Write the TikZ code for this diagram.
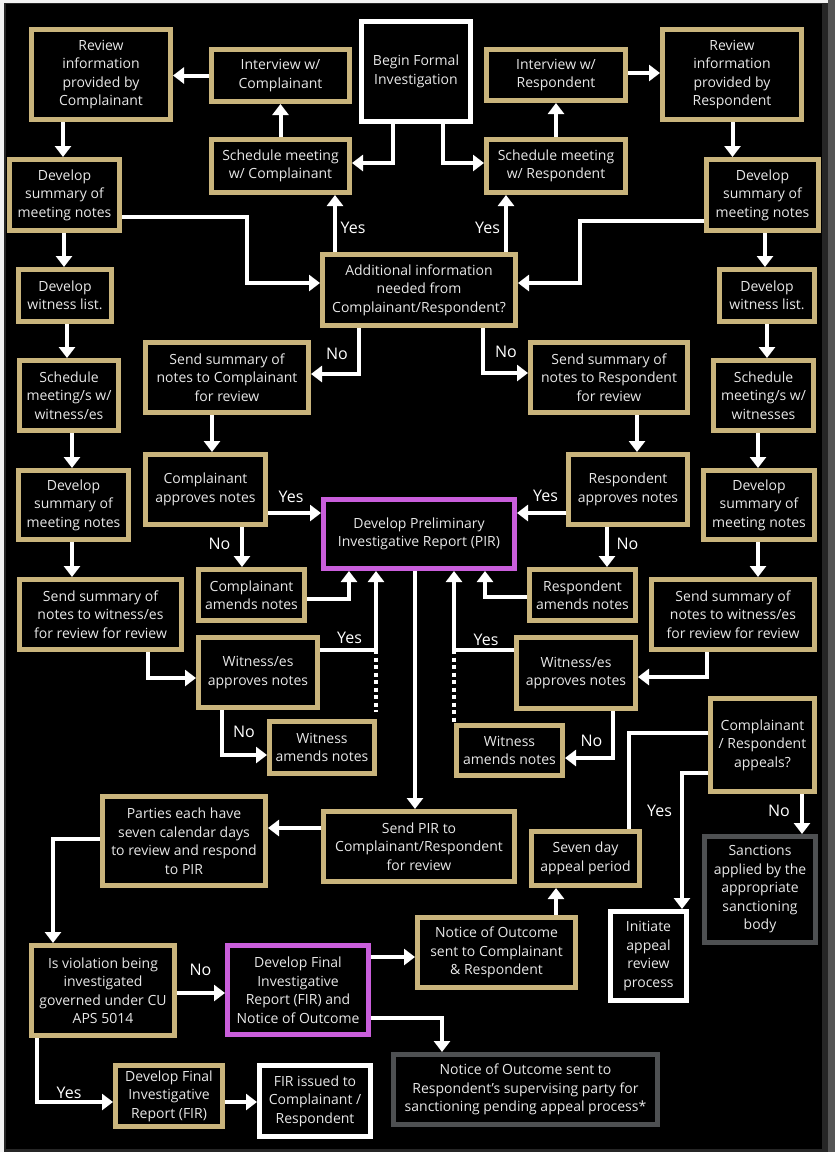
\documentclass[tikz,border=0pt]{standalone}
\usepackage{fontspec}
\setmainfont{Open Sans}
\usetikzlibrary{arrows.meta}
\definecolor{gold}{HTML}{C9B47C}
\definecolor{violet}{HTML}{C95EDB}
\definecolor{slate}{HTML}{4E5052}
\definecolor{txt}{HTML}{E8E8E8}
\definecolor{edge}{HTML}{F2F2F2}
\definecolor{rim}{HTML}{262626}
\definecolor{side}{HTML}{555555}
\begin{document}
\begin{tikzpicture}[x=1pt,y=-1pt,
  box/.style={draw, line width=5pt, fill=black, text=txt, align=center,
    font=\fontsize{14}{18.5}\selectfont, inner sep=0pt},
  gbox/.style={box, draw=gold},
  pbox/.style={box, draw=violet},
  wbox/.style={box, draw=white},
  kbox/.style={box, draw=slate},
  sz/.style 2 args={minimum width=#1pt, minimum height=#2pt},
  arr/.style={draw=white, line width=4pt, -{Triangle[width=16pt,length=11pt]}},
  link/.style={draw=white, line width=4pt},
  dots/.style={draw=white, line width=4pt, dash pattern=on 4pt off 3.5pt},
  lbl/.style={text=white, font=\fontsize{16}{18}\selectfont, inner sep=0pt}]

% page and frame
\useasboundingbox (0,0) rectangle (835,1152);
\fill[edge] (0,0) rectangle (835,1152);
\fill[side] (828,0) rectangle (835,1152);
\fill[rim] (4,3) rectangle (828,1152);
\fill[black] (6,4) rectangle (822,1149);

% top row
\node[gbox, sz={139}{90}] (revC) at (101,74.5) {Review\\information\\provided by\\Complainant};
\node[gbox, sz={138}{52}] (intC) at (280.5,75.5) {Interview w/\\Complainant};
\node[wbox, sz={109}{100}] (begin) at (416,71.5) {Begin Formal\\Investigation};
\node[gbox, sz={138}{53}] (schC) at (280.5,166) {Schedule meeting\\w/ Complainant};
\node[gbox, sz={139}{51}] (intR) at (556,75) {Interview w/\\Respondent};
\node[gbox, sz={139}{90}] (revR) at (732,74.5) {Review\\information\\provided by\\Respondent};
\node[gbox, sz={139}{53}] (schR) at (556,166) {Schedule meeting\\w/ Respondent};

% outer columns
\node[gbox, sz={110}{71}] (sumL) at (64.5,195) {Develop\\summary of\\meeting notes};
\node[gbox, sz={112}{71}] (sumR) at (762.5,195) {Develop\\summary of\\meeting notes};
\node[gbox, sz={93}{52}] (witL) at (65,295.5) {Develop\\witness list.};
\node[gbox, sz={95}{52}] (witR) at (767,295.5) {Develop\\witness list.};
\node[gbox, sz={99}{70}] (schWL) at (69,395.5) {Schedule\\meeting/s w/\\witness/es};
\node[gbox, sz={100}{70}] (schWR) at (763.5,395.5) {Schedule\\meeting/s w/\\witnesses};
\node[gbox, sz={110}{69}] (sum2L) at (73.5,505) {Develop\\summary of\\meeting notes};
\node[gbox, sz={111}{69}] (sum2R) at (759,505) {Develop\\summary of\\meeting notes};
\node[gbox, sz={162}{70}] (sendWL) at (100.5,614.5) {Send summary of\\notes to witness/es\\for review for review};
\node[gbox, sz={163}{70}] (sendWR) at (733,614.5) {Send summary of\\notes to witness/es\\for review for review};

% centre
\node[gbox, sz={193}{71}] (addl) at (419,290) {Additional information\\needed from\\Complainant/Respondent?};
\node[gbox, sz={163}{70}] (sendC) at (227,377.5) {Send summary of\\notes to Complainant\\for review};
\node[gbox, sz={157}{70}] (sendR) at (609,377.5) {Send summary of\\notes to Respondent\\for review};
\node[gbox, sz={120}{70}] (appC) at (205.5,489.5) {Complainant\\approves notes};
\node[gbox, sz={119}{70}] (appR) at (628,489.5) {Respondent\\approves notes};
\node[pbox, sz={191}{69}] (pir) at (419,534) {Develop Preliminary\\Investigative Report (PIR)};
\node[gbox, sz={106}{51}] (amC) at (251.5,595) {Complainant\\amends notes};
\node[gbox, sz={106}{51}] (amR) at (582.5,595) {Respondent\\amends notes};
\node[gbox, sz={119}{70}] (wapL) at (258,672.5) {Witness/es\\approves notes};
\node[gbox, sz={119}{71}] (wapR) at (576,673) {Witness/es\\approves notes};
\node[gbox, sz={105}{52}] (wamL) at (322,747.5) {Witness\\amends notes};
\node[gbox, sz={106}{50}] (wamR) at (509.5,750.5) {Witness\\amends notes};

% review and outcome
\node[gbox, sz={163}{89}] (parties) at (184,841) {Parties each have\\seven calendar days\\to review and respond\\to PIR};
\node[gbox, sz={191}{70}] (sendPIR) at (419,846.5) {Send PIR to\\Complainant/Respondent\\for review};
\node[gbox, sz={108}{54}] (seven) at (585.5,858.5) {Seven day\\appeal period};
\node[gbox, sz={104}{93}] (appeal) at (762.5,745) {Complainant\\/ Respondent\\appeals?};
\node[kbox, sz={111}{106}] (sanct) at (760,889.5) {Sanctions\\applied by the\\appropriate\\sanctioning\\body};
\node[wbox, sz={76}{89}] (initiate) at (648.5,956) {Initiate\\appeal\\review\\process};
\node[gbox, sz={158}{70}] (notC) at (496.5,952.5) {Notice of Outcome\\sent to Complainant\\\& Respondent};
\node[kbox, sz={264}{70}] (notSup) at (525.5,1089.5) {Notice of Outcome sent to\\Respondent’s supervising party for\\sanctioning pending appeal process*};
\node[gbox, sz={143}{90}] (isviol) at (103,990.5) {Is violation being\\investigated\\governed under CU\\APS 5014};
\node[pbox, sz={141}{89}] (firNo) at (298,990) {Develop Final\\Investigative\\Report (FIR) and\\Notice of Outcome};
\node[gbox, sz={107}{61}] (firDev) at (169,1096) {Develop Final\\Investigative\\Report (FIR)};
\node[wbox, sz={111}{71}] (firIss) at (315,1101) {FIR issued to\\Complainant /\\Respondent};

% junctions of the witness branches
\coordinate (jL) at (376,650);
\coordinate (jR) at (454,650);

% connectors: top
\draw[arr] (intC.west) -- (intC.west -| revC.east);
\draw[arr] (schC.north) -- (intC.south);
\draw[arr] ([xshift=-23pt]begin.south) |- ([yshift=3pt]schC.east);
\draw[arr] ([xshift=27pt]begin.south) |- ([yshift=3pt]schR.west);
\draw[arr] (schR.north) -- (intR.south);
\draw[arr] ([yshift=2pt]intR.east) -- ([yshift=2pt]intR.east -| revR.west);
\draw[arr] ([xshift=-38pt]revC.south) -- ([xshift=-38pt]revC.south |- sumL.north);
\draw[arr] ([xshift=-0.5pt]sumL.south) -- ([xshift=-0.5pt]sumL.south |- witL.north);
\draw[arr] ([yshift=-22pt]sumL.east) -| (247,283) -- ([yshift=7pt]addl.west);
\draw[arr] ([xshift=0.5pt]revR.south) -- ([xshift=0.5pt]revR.south |- sumR.north);
\draw[arr] ([xshift=2.5pt]sumR.south) -- ([xshift=2.5pt]sumR.south |- witR.north);
\draw[arr] ([yshift=-26pt]sumR.west) -| (580,283) -- ([yshift=7pt]addl.east);
\draw[arr] ([xshift=-84pt]addl.north) -- ([xshift=-84pt]addl.north |- schC.south);
\draw[arr] ([xshift=87pt]addl.north) -- ([xshift=87pt]addl.north |- schR.south);
\node[lbl] (yesAC) at (353,228) {Yes};
\node[lbl] (yesAR) at (487.5,228) {Yes};

% connectors: outer columns
\draw[arr] ([xshift=2pt]witL.south) -- ([xshift=2pt]witL.south |- schWL.north);
\draw[arr] ([xshift=3pt]schWL.south) -- ([xshift=3pt]schWL.south |- sum2L.north);
\draw[arr] ([xshift=-1.5pt]sum2L.south) -- ([xshift=-1.5pt]sum2L.south |- sendWL.north);
\draw[arr] (witR.south) -- (witR.south |- schWR.north);
\draw[arr] ([xshift=-5.5pt]schWR.south) -- ([xshift=-5.5pt]schWR.south |- sum2R.north);
\draw[arr] ([xshift=-1pt]sum2R.south) -- ([xshift=-1pt]sum2R.south |- sendWR.north);

% connectors: notes review
\draw[arr] ([xshift=-60pt]addl.south) |- ([yshift=3.5pt]sendC.east);
\draw[arr] ([xshift=64pt]addl.south) |- ([yshift=4.5pt]sendR.west);
\node[lbl] (noAC) at (337,354) {No};
\node[lbl] (noAR) at (506,352) {No};
\draw[arr] ([xshift=-15pt]sendC.south) -- ([xshift=-15pt]sendC.south |- appC.north);
\draw[arr] ([xshift=28pt]sendR.south) -- ([xshift=28pt]sendR.south |- appR.north);
\draw[arr] ([yshift=-23.5pt]appC.east) -- ([yshift=-23.5pt]appC.east -| pir.west);
\draw[arr] ([yshift=-23.5pt]appR.west) -- ([yshift=-23.5pt]appR.west -| pir.east);
\node[lbl] (yesC) at (291,497) {Yes};
\node[lbl] (yesR) at (545.5,496) {Yes};
\draw[arr] ([xshift=36.5pt]appC.south) -- ([xshift=36.5pt]appC.south |- amC.north);
\draw[arr] ([xshift=-21pt]appR.south) -- ([xshift=-21pt]appR.south |- amR.north);
\node[lbl] (noC) at (219.5,544) {No};
\node[lbl] (noR) at (627.5,544) {No};
\draw[arr] ([yshift=-4pt]amC.east) -| ([xshift=-70pt]pir.south);
\draw[arr] ([yshift=-2pt]amR.west) -| ([xshift=66pt]pir.south);

% connectors: witness review
\draw[arr] ([xshift=47.5pt]sendWL.south) |- ([yshift=-5.5pt]wapL.west);
\draw[arr] ([xshift=-26pt]sendWR.south) |- ([yshift=-4pt]wapR.east);
\draw[link] (wapL.east |- jL) -- (jL);
\draw[arr] (jL) -- (jL |- pir.south);
\draw[link] (wapR.west |- jR) -- (jR);
\draw[arr] (jR) -- (jR |- pir.south);
\draw[dots] (jL) -- ([yshift=7pt]jL |- wamL.north);
\draw[dots] (jR) -- (jR |- wamR.north);
\node[lbl] (yesWL) at (349.5,638) {Yes};
\node[lbl] (yesWR) at (486,639.5) {Yes};
\draw[arr] ([xshift=-36pt]wapL.south) |- ([yshift=-7.5pt]wamL.west);
\draw[arr] ([xshift=37pt]wapR.south) |- ([yshift=-7.5pt]wamR.east);
\node[lbl] (noWL) at (244,732) {No};
\node[lbl] (noWR) at (591.5,740.5) {No};

% connectors: report and outcome
\draw[arr] ([xshift=-4pt]pir.south) -- ([xshift=-4pt]pir.south |- sendPIR.north);
\draw[arr] ([yshift=18.5pt]sendPIR.west) -- ([yshift=18.5pt]sendPIR.west -| parties.east);
\draw[arr] ([yshift=2pt]parties.west) -| ([xshift=-50pt]isviol.north);
\draw[arr] ([yshift=-2.5pt]isviol.east) -- ([yshift=-2.5pt]isviol.east -| firNo.west);
\node[lbl] (noV) at (200.5,970) {No};
\draw[arr] ([xshift=-66pt]isviol.south) |- ([yshift=-6pt]firDev.west);
\node[lbl] (yesV) at (69,1093) {Yes};
\draw[arr] ([yshift=-6pt]firDev.east) -- ([yshift=-6pt]firDev.east -| firIss.west);
\draw[arr] ([yshift=33pt]firNo.east) -- ([yshift=33pt]firNo.east -| notC.west);
\draw[arr] ([yshift=-28pt]firNo.east) -| ([xshift=-83.5pt]notSup.north);
\draw[arr] ([xshift=59.5pt]notC.north) -- ([xshift=59.5pt]notC.north |- seven.south);
\draw[link] ([yshift=12pt]appeal.west) -| ([xshift=43.5pt]seven.north);
\draw[arr] ([yshift=-28pt]appeal.west) -| ([xshift=33.5pt]initiate.north);
\draw[arr] ([xshift=39.5pt]appeal.south) -- ([xshift=39.5pt]appeal.south |- sanct.north);
\node[lbl] (yesA) at (659.5,810.5) {Yes};
\node[lbl] (noA) at (779,811) {No};
\end{tikzpicture}
\end{document}
